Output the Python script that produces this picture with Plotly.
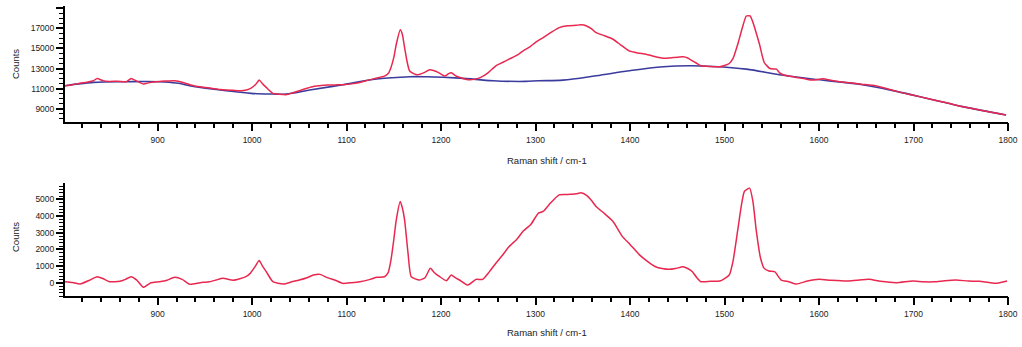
import plotly.graph_objects as go

# ---- Top panel: measured spectrum (red) and fitted baseline (blue) ----
raw_shift = [802, 810, 818, 825, 832, 836, 842, 849, 858, 867, 872, 878, 885, 893, 902, 910, 918,
             927, 938, 946, 955, 964, 973, 980, 988, 994, 999, 1004, 1007.5, 1011, 1015, 1022,
             1029, 1036, 1043, 1050, 1058, 1065, 1072, 1079, 1088, 1096, 1105, 1114, 1123, 1132,
             1140, 1144, 1147, 1150, 1152.6, 1156.8, 1159, 1161.4, 1164, 1166.6, 1171, 1175, 1182,
             1188, 1195, 1200, 1204, 1208, 1211, 1215, 1220, 1230, 1236, 1242, 1250, 1258, 1265,
             1272, 1280, 1287, 1294, 1300, 1308, 1316, 1325, 1334, 1343, 1348, 1354, 1359, 1364,
             1373, 1382, 1390, 1399, 1408, 1417, 1426, 1435, 1441, 1446, 1451, 1456, 1461, 1466,
             1470, 1475, 1485, 1495, 1500, 1505, 1509, 1514, 1519, 1523, 1527, 1530, 1533, 1537,
             1542, 1548, 1552, 1555, 1558, 1562, 1568, 1576, 1585, 1593, 1599, 1604, 1615, 1629,
             1645, 1660, 1670, 1682, 1700, 1717, 1735, 1752, 1775, 1798]
raw_counts = [11296, 11400, 11550, 11650, 11790, 12020, 11800, 11724, 11750, 11691, 12020, 11750,
              11461, 11650, 11724, 11760, 11790, 11625, 11296, 11180, 11066, 10950, 10869, 10840,
              10802, 10880, 11066, 11450, 11856, 11500, 11132, 10539, 10450, 10407, 10600, 10802,
              11050, 11230, 11300, 11362, 11380, 11395, 11480, 11625, 11850, 12053, 12251, 12500,
              13107, 14100, 15412, 16850, 16400, 15082, 13700, 12778, 12500, 12383, 12600, 12877,
              12712, 12450, 12251, 12500, 12580, 12300, 12119, 11889, 11950, 12119, 12600, 13272,
              13600, 13930, 14300, 14753, 15150, 15600, 16070, 16550, 17058, 17250, 17288, 17330,
              17222, 16950, 16564, 16250, 15906, 15350, 14753, 14550, 14424, 14200, 14029, 14050,
              14100, 14130, 14161, 14050, 13766, 13550, 13272, 13200, 13173, 13300, 13502, 14000,
              15412, 17100, 18210, 18210, 17600, 16700, 15412, 13600, 13000, 12950, 12942, 12600,
              12383, 12250, 12119, 11980, 11856, 11920, 11988, 11800, 11625, 11450, 11296, 11050,
              10737, 10350, 9980, 9600, 9222, 8800, 8399]

base_shift = [802, 832, 867, 902, 920, 938, 973, 999, 1022, 1036, 1061, 1096, 1132, 1167, 1184,
              1220, 1255, 1289, 1303, 1329, 1364, 1399, 1435, 1463, 1488, 1523, 1558, 1593,
              1646, 1682, 1717, 1752, 1798]
base_counts = [11296, 11625, 11691, 11691, 11560, 11230, 10802, 10539, 10473, 10473, 10869,
               11395, 11955, 12185, 12185, 12053, 11790, 11724, 11790, 11856, 12284, 12778,
               13173, 13272, 13206, 12942, 12383, 11955, 11395, 10737, 9980, 9222, 8399]

# ---- Bottom panel: baseline-corrected spectrum ----
corr_shift = [802, 810, 818, 828, 836, 842, 849, 860, 866, 872, 878, 885, 893, 902, 910, 918, 926,
              934, 945, 955, 962, 969, 980, 987, 993, 998, 1003, 1007.5, 1011, 1015, 1022, 1033,
              1042, 1050, 1058, 1065, 1072, 1079, 1088, 1096, 1105, 1114, 1125, 1132, 1140, 1144,
              1147, 1150, 1152.6, 1156.8, 1159, 1161.4, 1165, 1168.4, 1177, 1183, 1188.7, 1193,
              1198.6, 1205.6, 1210.8, 1215, 1219.6, 1228.4, 1237, 1244, 1251, 1258, 1265, 1272,
              1280, 1287, 1295, 1303, 1308, 1316, 1325, 1334, 1343, 1348, 1354, 1359, 1364, 1373,
              1382, 1392, 1400, 1410, 1418, 1427, 1434, 1441, 1448, 1456, 1461, 1466, 1470, 1475,
              1485, 1495, 1500, 1505, 1509, 1514, 1518, 1521, 1526.5, 1530, 1533.5, 1538, 1542,
              1547, 1553, 1560, 1568, 1576, 1588, 1600, 1612, 1629, 1640, 1653, 1665, 1682, 1699,
              1710, 1722, 1733, 1745, 1758, 1770, 1787, 1799]
corr_counts = [60, 10, -80, 150, 360, 250, 60, 80, 200, 360, 150, -280, 0, 60, 150, 320, 200,
               -100, 0, 60, 160, 260, 150, 240, 350, 560, 950, 1330, 1000, 660, 60, -80,
               50, 160, 300, 460, 500, 320, 150, -40, 0, 60, 200, 320, 360, 600,
               1370, 2600, 3780, 4880, 4500, 3780, 1800, 360, 160, 300, 860, 600,
               360, 120, 460, 300, 160, -140, 200, 200, 650, 1170, 1650, 2170,
               2600, 3100, 3500, 4180, 4280, 4800, 5280, 5300, 5340, 5400, 5240, 4950, 4580, 4150,
               3680, 2770, 2300, 1670, 1300, 960, 850, 800, 850, 960, 850, 660, 350, 60,
               80, 100, 250, 460, 1300, 3170, 4700, 5480, 5680, 4900, 3170, 1500, 860,
               700, 660, 160, 60, -80, 100, 200, 150, 100, 150, 200, 80, 0, 100,
               50, 50, 120, 160, 100, 80, -40, 100]

x_ticks = [900, 1000, 1100, 1200, 1300, 1400, 1500, 1600, 1700, 1800]
top_y_ticks = [9000, 11000, 13000, 15000, 17000]
bot_y_ticks = [0, 1000, 2000, 3000, 4000, 5000]

X_RANGE = [802, 1800]
TOP_Y_RANGE = [7700, 19200]
BOT_Y_RANGE = [-800, 5990]

RED = "#e8284f"
BLUE = "#3b3b9e"
W, H = 1022, 347

def px_x(p):
    return p / W

def px_y(p):
    return 1 - p / H

X_DOM = [px_x(65), px_x(1008)]
TOP_DOM = [px_y(122), px_y(6)]
BOT_DOM = [px_y(296), px_y(183)]

fig = go.Figure()
# empty traces so that the minor-tick overlay subplots are created
fig.add_trace(go.Scatter(x=[], y=[], xaxis="x3", yaxis="y3", showlegend=False, hoverinfo="skip"))
fig.add_trace(go.Scatter(x=[], y=[], xaxis="x4", yaxis="y4", showlegend=False, hoverinfo="skip"))
fig.add_trace(go.Scatter(x=base_shift, y=base_counts, mode="lines", line=dict(color=BLUE, width=1.6),
                         line_shape="spline", xaxis="x", yaxis="y", showlegend=False))
fig.add_trace(go.Scatter(x=raw_shift, y=raw_counts, mode="lines",
                         line=dict(color=RED, width=1.5, shape="spline", smoothing=0.5),
                         xaxis="x", yaxis="y", showlegend=False))
fig.add_trace(go.Scatter(x=corr_shift, y=corr_counts, mode="lines",
                         line=dict(color=RED, width=1.5, shape="spline", smoothing=0.5),
                         xaxis="x2", yaxis="y2", showlegend=False))

FONT = "Liberation Sans, Arial, sans-serif"
font_tick = dict(family=FONT, size=8.5, color="#222")
base_ax = dict(showgrid=False, zeroline=False, fixedrange=True, automargin=False,
               ticks="outside", tickcolor="black")

xaxis_major = dict(**base_ax, range=X_RANGE, tickmode="linear", tick0=x_ticks[0], dtick=100,
                   tickformat="d", showline=True, linecolor="black", linewidth=2, ticklen=7,
                   tickwidth=2, tickfont=font_tick, ticklabelstandoff=2, domain=X_DOM)
xaxis_minor = dict(**base_ax, range=X_RANGE, tickmode="linear", tick0=800, dtick=20,
                   showticklabels=False, showline=False, ticklen=5, tickwidth=1.6, domain=X_DOM)
yaxis_major = dict(**base_ax, showline=True, linecolor="black", linewidth=2, ticklen=7,
                   tickwidth=2, tickfont=font_tick, tickmode="linear", tickformat="d",
                   exponentformat="none", ticklabelstandoff=0)
yaxis_minor = dict(**base_ax, showticklabels=False, showline=False, ticklen=5, tickwidth=1.2,
                   tickmode="linear")

title_font = dict(family=FONT, size=9.5, color="#222")
fig.update_layout(
    width=W, height=H, margin=dict(l=0, r=0, t=0, b=0, autoexpand=False),
    paper_bgcolor="white", plot_bgcolor="white",
    xaxis=dict(**xaxis_major, anchor="y"),
    xaxis2=dict(**xaxis_major, anchor="y2"),
    xaxis3=dict(**xaxis_minor, anchor="y3", overlaying="x", side="bottom"),
    xaxis4=dict(**xaxis_minor, anchor="y4", overlaying="x2", side="bottom"),
    yaxis=dict(**yaxis_major, range=TOP_Y_RANGE, tick0=top_y_ticks[0], dtick=2000,
               labelalias={"19000": ""}, domain=TOP_DOM, anchor="x"),
    yaxis2=dict(**yaxis_major, range=BOT_Y_RANGE, tick0=bot_y_ticks[0], dtick=1000,
                domain=BOT_DOM, anchor="x2"),
    yaxis3=dict(**yaxis_minor, range=TOP_Y_RANGE, tick0=9000, dtick=500,
                domain=TOP_DOM, anchor="x3", overlaying="y", side="left"),
    yaxis4=dict(**yaxis_minor, range=BOT_Y_RANGE, tick0=0, dtick=200,
                domain=BOT_DOM, anchor="x4", overlaying="y2", side="left"),
    annotations=[
        dict(text="Raman shift / cm-1", x=px_x(547), y=px_y(161), xref="paper", yref="paper",
             xanchor="center", yanchor="middle", showarrow=False, font=title_font),
        dict(text="Raman shift / cm-1", x=px_x(547), y=px_y(332), xref="paper", yref="paper",
             xanchor="center", yanchor="middle", showarrow=False, font=title_font),
        dict(text="Counts", x=px_x(15), y=px_y(64), xref="paper", yref="paper", textangle=-90,
             xanchor="center", yanchor="middle", showarrow=False, font=title_font),
        dict(text="Counts", x=px_x(15), y=px_y(237), xref="paper", yref="paper", textangle=-90,
             xanchor="center", yanchor="middle", showarrow=False, font=title_font),
    ],
)

fig.write_html("out.html")
